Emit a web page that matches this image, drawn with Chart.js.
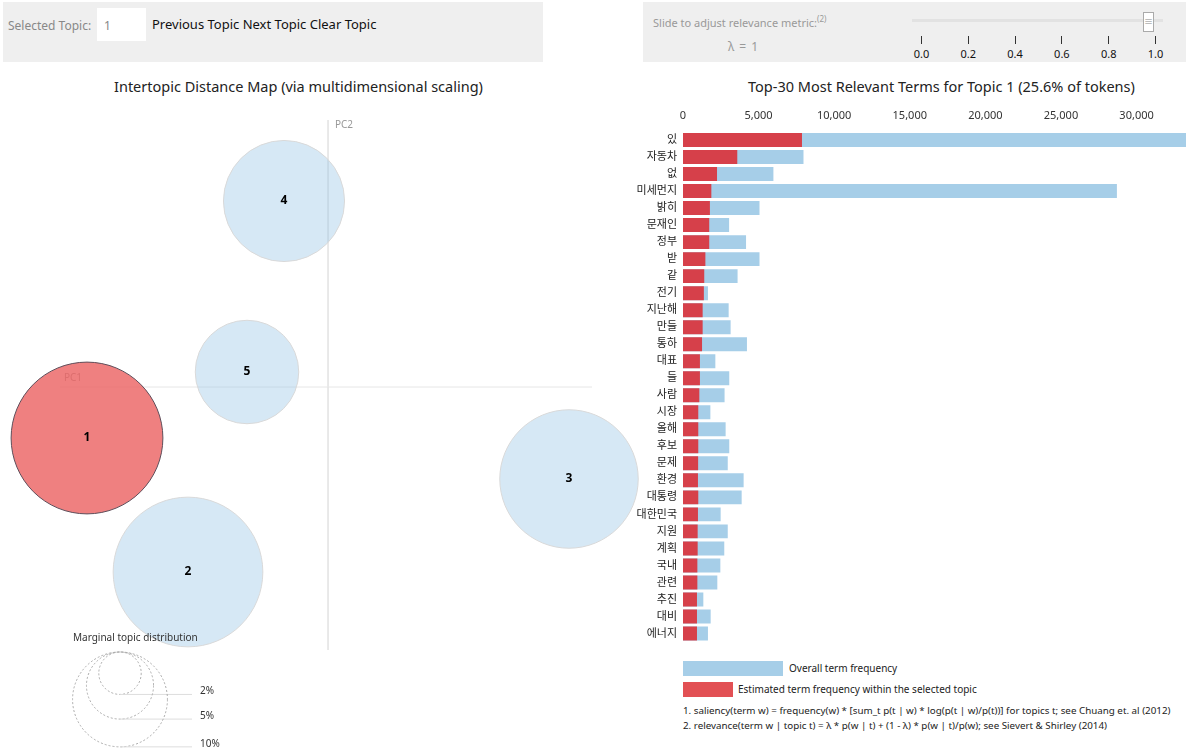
<!DOCTYPE html>
<html>
<head>
<meta charset="utf-8">
<script src="https://cdn.jsdelivr.net/npm/chart.js"></script>
<style>
body{margin:0;width:1186px;height:752px;position:relative;overflow:hidden;background:#fff;
  font-family:"Noto Sans","Noto Sans CJK KR",sans-serif;color:#333;}
.abs{position:absolute;white-space:nowrap;}
.panel{position:absolute;background:#efefef;top:2px;height:60px;}
#inp{position:absolute;left:97px;top:8px;width:49px;height:33px;background:#fff;}
.tick{position:absolute;top:36px;width:1px;height:8px;background:#333;}
.tlab{position:absolute;top:46px;font-size:11px;color:#111;transform:translateX(-50%);}
.note{font-size:10px;color:#222;}
.foot{font-size:9.8px;color:#222;}
</style>
</head>
<body>
<div class="panel" style="left:3px;width:540px;"></div>
<div class="panel" style="left:643px;width:543px;"></div>
<div class="abs" style="left:8px;top:17px;font-size:12px;color:#888;">Selected Topic:</div>
<div id="inp"></div>
<div class="abs" style="left:104px;top:17px;font-size:12px;color:#888;">1</div>
<div class="abs" style="left:152px;top:15px;font-size:13px;color:#111;">Previous Topic Next Topic Clear Topic</div>

<div class="abs" style="left:653px;top:13px;font-size:11px;color:#999;">Slide to adjust relevance metric:<sup style="font-size:8px">(2)</sup></div>
<div class="abs" style="left:728px;top:38px;font-size:12px;color:#999;word-spacing:2px;">λ = 1</div>
<div class="abs" style="left:912px;top:19px;width:251px;height:3px;background:#e2e2e2;"></div>
<div class="abs" style="left:1143px;top:12px;width:9px;height:18px;background:#fff;border:1px solid #aaa;font-size:9px;line-height:18px;text-align:center;color:#888;">≡</div>
<div id="slider"></div>

<div class="abs" style="left:114px;top:76px;font-size:14.5px;color:#222;">Intertopic Distance Map (via multidimensional scaling)</div>
<div class="abs" style="left:748px;top:76px;font-size:14.5px;color:#222;">Top-30 Most Relevant Terms for Topic 1 (25.6% of tokens)</div>

<canvas id="map" width="640" height="652" class="abs" style="left:0;top:100px;"></canvas>
<div class="abs note" style="left:73px;top:630px;color:#333;">Marginal topic distribution</div>

<canvas id="bars" width="556" height="542" class="abs" style="left:630px;top:100px;"></canvas>

<div class="abs" style="left:683px;top:661px;width:100px;height:15px;background:rgb(166,206,232);"></div>
<div class="abs note" style="left:789px;top:661px;">Overall term frequency</div>
<div class="abs" style="left:683px;top:682px;width:50px;height:15px;background:rgb(226,80,84);"></div>
<div class="abs note" style="left:738px;top:682px;">Estimated term frequency within the selected topic</div>
<div class="abs foot" style="left:683px;top:704px;">1. saliency(term w) = frequency(w) * [sum_t p(t | w) * log(p(t | w)/p(t))] for topics t; see Chuang et. al (2012)</div>
<div class="abs foot" style="left:683px;top:719px;">2. relevance(term w | topic t) = λ * p(w | t) + (1 - λ) * p(w | t)/p(w); see Sievert &amp; Shirley (2014)</div>

<script>
// topics (MDS coordinates, share of tokens in %)
const topicIds = ['1', '2', '3', '4', '5'];
const topicPC1 = [-0.241, -0.140, 0.241, -0.044, -0.081];
const topicPC2 = [-0.051, -0.185, -0.092, 0.186, 0.015];
const topicPct = [25.6, 24.9, 21.3, 16.3, 11.9];
const selectedTopic = 0;
const marginalPct = [2, 5, 10];
const marginalLabels = ['2%', '5%', '10%'];

// top-30 terms for topic 1
const terms = ['있', '자동차', '없', '미세먼지', '밝히', '문재인', '정부', '받', '같', '전기',
  '지난해', '만들', '통하', '대표', '들', '사람', '시장', '올해', '후보', '문제',
  '환경', '대통령', '대한민국', '지원', '계획', '국내', '관련', '추진', '대비', '에너지'];
const overallFreq = [34500, 7970, 5980, 28700, 5060, 3050, 4170, 5060, 3610, 1650,
  3020, 3150, 4230, 2140, 3060, 2750, 1810, 2820, 3060, 2960,
  4010, 3880, 2490, 2960, 2730, 2470, 2270, 1345, 1830, 1650];
const topicFreq = [7870, 3590, 2250, 1875, 1780, 1735, 1735, 1480, 1405, 1380,
  1300, 1300, 1260, 1120, 1120, 1080, 1010, 1010, 1010, 1000,
  990, 1010, 990, 970, 970, 950, 950, 925, 925, 925];
const freqTicks = [0, 5000, 10000, 15000, 20000, 25000, 30000];
const lambdaTicks = ['0.0', '0.2', '0.4', '0.6', '0.8', '1.0'];

const FONT = '"Noto Sans","Noto Sans CJK KR",sans-serif';
const rScale = p => 15 * Math.sqrt(p);

// slider axis
const sl = document.getElementById('slider');
lambdaTicks.forEach((t, i) => {
  const x = 921 + i * 46.8;
  sl.insertAdjacentHTML('beforeend',
    '<div class="tick" style="left:' + x + 'px"></div><div class="tlab" style="left:' + (x + 0.5) + 'px">' + t + '</div>');
});

// left panel
const mapDecor = {
  id: 'mapDecor',
  beforeDatasetsDraw(chart) {
    const ctx = chart.ctx, xs = chart.scales.x, ys = chart.scales.y;
    ctx.save();
    ctx.font = '10px ' + FONT;
    ctx.fillStyle = '#999';
    ctx.textBaseline = 'middle';
    ctx.fillText('PC1', xs.getPixelForValue(-0.268) + 4, ys.getPixelForValue(0) - 9);
    ctx.fillText('PC2', xs.getPixelForValue(0) + 7, ys.getPixelForValue(0.267) + 5);
    ctx.restore();
  },
  afterDatasetsDraw(chart) {
    const ctx = chart.ctx;
    const meta = chart.getDatasetMeta(2);
    ctx.save();
    ctx.font = 'bold 12px ' + FONT;
    ctx.fillStyle = '#000';
    ctx.textAlign = 'center';
    ctx.textBaseline = 'middle';
    meta.data.forEach((pt, i) => ctx.fillText(topicIds[i], pt.x, pt.y));

    // marginal topic distribution legend
    const cx = 120, top = 552;
    ctx.font = '10px ' + FONT;
    ctx.textAlign = 'left';
    ctx.fillStyle = '#333';
    marginalPct.forEach((p, i) => {
      const r = rScale(p);
      ctx.setLineDash([2, 2]);
      ctx.strokeStyle = '#aaa';
      ctx.lineWidth = 1;
      ctx.beginPath();
      ctx.arc(cx, top + r, r, 0, Math.PI * 2);
      ctx.stroke();
      ctx.setLineDash([]);
      ctx.strokeStyle = '#ddd';
      ctx.beginPath();
      ctx.moveTo(cx, top + 2 * r);
      ctx.lineTo(192, top + 2 * r);
      ctx.stroke();
      ctx.fillText(marginalLabels[i], 200, top + 2 * r - 3);
    });
    ctx.restore();
  }
};

new Chart(document.getElementById('map'), {
  type: 'bubble',
  data: {
    datasets: [
      { type: 'line', data: [{ x: -0.268, y: 0 }, { x: 0.264, y: 0 }], borderColor: '#e6e6e6', borderWidth: 1, pointRadius: 0, order: 2 },
      { type: 'line', data: [{ x: 0, y: 0.267 }, { x: 0, y: -0.263 }], borderColor: '#e6e6e6', borderWidth: 1, pointRadius: 0, order: 2 },
      {
        data: topicPC1.map((x, i) => ({ x: x, y: topicPC2[i], r: rScale(topicPct[i]) })),
        backgroundColor: c => c.dataIndex === selectedTopic ? 'rgba(236,100,100,0.82)' : 'rgba(138,189,226,0.35)',
        borderColor: c => c.dataIndex === selectedTopic ? '#5e4e5a' : '#d9d9d9',
        borderWidth: 1,
        clip: false,
        order: 0
      }
    ]
  },
  options: {
    responsive: false,
    animation: false,
    layout: { padding: 0, autoPadding: false },
    plugins: { legend: { display: false }, tooltip: { enabled: false } },
    scales: {
      x: { type: 'linear', display: false, min: -0.328, max: 0.312 },
      y: { type: 'linear', display: false, min: -0.365, max: 0.287 }
    }
  },
  plugins: [mapDecor]
});

// right panel
new Chart(document.getElementById('bars'), {
  type: 'bar',
  data: {
    labels: terms,
    datasets: [
      { label: 'Estimated term frequency within the selected topic', data: topicFreq,
        backgroundColor: 'rgb(214,64,74)', grouped: false, barPercentage: 0.82, categoryPercentage: 1 },
      { label: 'Overall term frequency', data: overallFreq,
        backgroundColor: 'rgb(166,206,232)', grouped: false, barPercentage: 0.82, categoryPercentage: 1 }
    ]
  },
  options: {
    indexAxis: 'y',
    responsive: false,
    animation: false,
    layout: { padding: 0, autoPadding: false },
    plugins: { legend: { display: false }, tooltip: { enabled: false } },
    scales: {
      x: {
        position: 'top', min: 0, max: 33270,
        grid: { display: false, drawTicks: false }, border: { display: false },
        ticks: { font: { size: 11, family: FONT }, color: '#333', padding: 9 },
        afterBuildTicks: s => { s.ticks = freqTicks.map(v => ({ value: v })); },
        afterFit: s => { s.height = 31.5; s.paddingLeft = 0; s.paddingRight = 0; }
      },
      y: {
        grid: { display: false, drawTicks: false }, border: { display: false },
        ticks: { font: { size: 11, family: FONT }, color: '#222', padding: 6, autoSkip: false },
        afterFit: s => { s.width = 53; s.paddingTop = 0; s.paddingBottom = 0; }
      }
    }
  }
});
</script>
</body>
</html>
